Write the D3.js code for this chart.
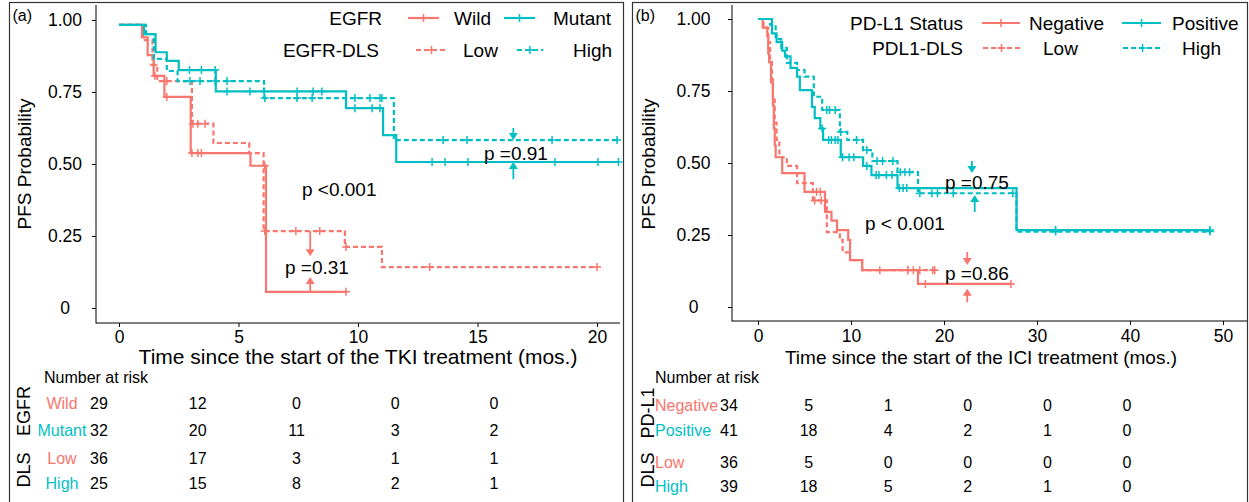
<!DOCTYPE html>
<html>
<head>
<meta charset="utf-8">
<script src="https://cdn.jsdelivr.net/npm/d3@7"></script>
<style>
  body { margin: 0; background: #fff; }
  text { font-family: "Liberation Sans", Arial, sans-serif; fill: #000; }
</style>
</head>
<body>
<svg id="chart"></svg>
<script>
var red = "#F8766D", teal = "#00BFC4";

// ---- panel (a): EGFR / EGFR-DLS ----
// step curves: time of each step and survival from that time on (last = end of follow-up)
var wildT = [0, 0.96, 1.2, 1.45, 1.9, 3.0, 5.5, 6.15, 9.5];
var wildS = [0.983, 0.94, 0.878, 0.806, 0.733, 0.538, 0.494, 0.056, 0.056];
var wildCens = [1.5, 2.0, 3.05, 3.3, 3.45, 6.1, 9.5];

var mutantT = [0, 1.05, 1.53, 2.0, 2.5, 4.05, 9.5, 11.05, 11.6, 20.9];
var mutantS = [0.983, 0.951, 0.888, 0.858, 0.826, 0.752, 0.694, 0.60, 0.507, 0.507];
var mutantCens = [2.95, 3.45, 4.02, 4.52, 5.48, 6.07, 7.45, 8.12, 8.49, 9.87, 10.59, 10.92, 13.1, 13.64, 14.6, 18.24, 20.04, 20.9];

var lowAT = [0, 1.0, 1.4, 1.6, 3.05, 3.95, 5.45, 6.05, 9.45, 11.0, 20.0];
var lowAS = [0.983, 0.93, 0.844, 0.788, 0.64, 0.573, 0.538, 0.267, 0.212, 0.142, 0.142];
var lowACens = [1.45, 2.0, 3.1, 3.3, 3.6, 6.1, 7.4, 8.4, 9.5, 13.0, 20.0];

var highAT = [0, 1.13, 1.46, 2.0, 2.45, 6.07, 11.5, 20.9];
var highAS = [0.983, 0.951, 0.865, 0.823, 0.788, 0.729, 0.583, 0.583];
var highACens = [2.97, 3.39, 4.02, 4.52, 6.1, 7.45, 8.08, 9.87, 10.5, 10.92, 11.0, 13.56, 14.56, 18.12, 20.84];

// ---- panel (b): PD-L1 / PDL1-DLS ----
var posT = [0, 1.5, 2.0, 2.6, 2.9, 3.5, 4.2, 4.5, 5.8, 6.1, 6.7, 7.0, 8.9, 11.3, 12.2, 15.0, 27.8, 48.6];
var posS = [1.0, 0.95, 0.92, 0.89, 0.87, 0.83, 0.80, 0.753, 0.695, 0.656, 0.62, 0.58, 0.52, 0.49, 0.458, 0.413, 0.267, 0.267];
var posCens = [6.9, 7.6, 7.9, 8.3, 8.6, 9.1, 9.8, 10.3, 11.7, 12.7, 13.0, 13.8, 14.4, 15.2, 15.6, 16.0, 32.0, 48.6];

var highBT = [0, 1.3, 1.9, 2.5, 3.1, 4.2, 5.0, 6.0, 6.9, 8.8, 9.6, 11.3, 12.3, 15.0, 17.2, 27.8, 48.6];
var highBS = [1.0, 0.98, 0.93, 0.90, 0.848, 0.823, 0.80, 0.73, 0.684, 0.608, 0.58, 0.545, 0.507, 0.468, 0.395, 0.262, 0.262];
var highBCens = [7.4, 7.7, 8.3, 8.9, 10.6, 11.7, 12.8, 13.4, 14.5, 15.3, 15.8, 16.3, 17.4, 18.7, 19.3, 21.0, 27.4, 32.0, 48.6];

var negT = [0, 0.5, 1.0, 1.1, 1.2, 1.4, 1.6, 1.7, 1.8, 1.9, 2.6, 5.0, 7.2, 7.9, 8.5, 9.7, 9.9, 11.2, 17.2, 27.2];
var negS = [1.0, 0.97, 0.94, 0.88, 0.85, 0.78, 0.70, 0.62, 0.56, 0.52, 0.465, 0.40, 0.33, 0.30, 0.267, 0.233, 0.163, 0.128, 0.08, 0.08];
var negCens = [6.3, 6.7, 16.1, 16.7, 18.0, 27.2];

var lowBT = [0, 0.6, 1.1, 1.3, 1.5, 1.6, 1.8, 2.0, 2.3, 3.1, 4.2, 5.9, 7.4, 8.8, 9.1, 9.9, 11.2, 19.0];
var lowBS = [1.0, 0.97, 0.92, 0.86, 0.79, 0.72, 0.64, 0.58, 0.52, 0.49, 0.43, 0.37, 0.26, 0.233, 0.19, 0.163, 0.128, 0.128];
var lowBCens = [6.1, 6.8, 13.1, 16.1, 17.4, 18.8, 19.0];

// ---- number at risk ----
var riskTimesA = [0, 5, 10, 15, 20];
var riskWild = [29, 12, 0, 0, 0];
var riskMutant = [32, 20, 11, 3, 2];
var riskLowA = [36, 17, 3, 1, 1];
var riskHighA = [25, 15, 8, 2, 1];

var riskTimesB = [0, 10, 20, 30, 40, 50];
var riskNeg = [34, 5, 1, 0, 0, 0];
var riskPos = [41, 18, 4, 2, 1, 0];
var riskLowB = [36, 5, 0, 0, 0, 0];
var riskHighB = [39, 18, 5, 2, 1, 0];

var yTicks = [0, 0.25, 0.5, 0.75, 1];
var yTickLabels = ["0", "0.25", "0.50", "0.75", "1.00"];

var svg = d3.select("#chart").attr("width", 1249).attr("height", 502);
svg.append("rect").attr("width", 1249).attr("height", 502).attr("fill", "#fff");

function survAt(T, S, t) {
    var s = S[0];
    for (var i = 0; i < T.length; i++) { if (T[i] <= t) s = S[i]; }
    return s;
}

function plus(g, px, py, color, r) {
    g.append("path")
        .attr("d", "M" + (px - r) + "," + py + "h" + (2 * r) + "M" + px + "," + (py - r) + "v" + (2 * r))
        .attr("stroke", color).attr("stroke-width", 1.5).attr("fill", "none");
}

function arrow(g, x, y, y0, y1, color) {
    var px = x, a = y(y0), b = y(y1), dir = b > a ? 1 : -1;
    g.append("line").attr("x1", px).attr("x2", px).attr("y1", a).attr("y2", b - dir * 6)
        .attr("stroke", color).attr("stroke-width", 1.8);
    g.append("path")
        .attr("d", "M" + (px - 4.5) + "," + (b - dir * 7) + "L" + (px + 4.5) + "," + (b - dir * 7) + "L" + px + "," + b + "Z")
        .attr("fill", color);
}

function drawPanel(p) {
    var g = svg.append("g");
    var x = d3.scaleLinear().domain(p.xDomain).range(p.xRange);
    var y = d3.scaleLinear().domain([0, 1]).range(p.yRange);

    // frame
    g.append("rect").attr("x", p.frame[0]).attr("y", 2.5).attr("width", p.frame[1] - p.frame[0]).attr("height", 520)
        .attr("fill", "none").attr("stroke", "#333").attr("stroke-width", 1.2);
    g.append("text").attr("x", p.frame[0] + 3).attr("y", 21).style("font-size", "16px").text(p.tag);

    // axes
    var yAxis = g.append("g").attr("transform", "translate(" + p.axisX + ",0)")
        .call(d3.axisLeft(y).tickValues(yTicks).tickSize(4).tickFormat(function (d, i) { return yTickLabels[i]; }));
    yAxis.select(".domain").remove();
    yAxis.selectAll("text").attr("text-anchor", "middle").attr("x", p.yLabelDx).style("font-size", "17.5px");
    g.append("line").attr("x1", p.axisX).attr("x2", p.axisX).attr("y1", 5).attr("y2", p.axisY + 0.5).attr("stroke", "#000");

    var xAxis = g.append("g").attr("transform", "translate(0," + p.axisY + ")")
        .call(d3.axisBottom(x).tickValues(p.xTicks).tickSize(4).tickPadding(p.xPad));
    xAxis.select(".domain").remove();
    xAxis.selectAll("text").style("font-size", "17.5px");
    g.append("line").attr("x1", p.axisX).attr("x2", p.axisEnd).attr("y1", p.axisY).attr("y2", p.axisY).attr("stroke", "#000");
    g.selectAll(".tick line").attr("stroke", "#000");

    g.append("text").attr("x", p.xTitleX).attr("y", p.xTitleY).attr("text-anchor", "middle")
        .style("font-size", p.xTitleSize).text(p.xTitle);
    g.append("text").attr("transform", "translate(" + p.yTitleX + ",164) rotate(-90)").attr("dy", "0.35em")
        .attr("text-anchor", "middle").style("font-size", "19px").text("PFS Probability");

    // curves
    var line = d3.line().x(function (d) { return x(d[0]); }).y(function (d) { return y(d[1]); }).curve(d3.curveStepAfter);
    p.curves.forEach(function (c) {
        var pts = c.T.map(function (t, i) { return [t, c.S[i]]; });
        g.append("path").datum(pts).attr("d", line).attr("fill", "none")
            .attr("stroke", c.color).attr("stroke-width", 2.2)
            .attr("stroke-dasharray", c.dash ? "5,3" : null);
        c.cens.forEach(function (t) { plus(g, x(t), y(survAt(c.T, c.S, t)), c.color, 4); });
    });

    // legend
    p.legend.forEach(function (row) {
        g.append("text").attr("x", row.titleEnd).attr("y", row.y).attr("dy", "0.35em").attr("text-anchor", "end")
            .style("font-size", "19px").text(row.title);
        row.items.forEach(function (it) {
            g.append("line").attr("x1", it.x1).attr("x2", it.x2).attr("y1", row.y).attr("y2", row.y)
                .attr("stroke", it.color).attr("stroke-width", 2.2).attr("stroke-dasharray", it.dash ? "5,3" : null);
            plus(g, (it.x1 + it.x2) / 2, row.y, it.color, 4);
            g.append("text").attr("x", it.tx).attr("y", row.y).attr("dy", "0.35em").style("font-size", "19px").text(it.label);
        });
    });

    // p values and arrows
    p.pvals.forEach(function (pv) {
        g.append("text").attr("x", pv[0]).attr("y", pv[1]).attr("dy", "0.35em").style("font-size", "19px").text(pv[2]);
    });
    p.arrows.forEach(function (a) { arrow(g, x(a[0]), y, a[1], a[2], a[3]); });

    // number at risk
    var rx = d3.scaleLinear().domain([p.riskTimes[0], p.riskTimes[p.riskTimes.length - 1]]).range(p.riskRange);
    g.append("text").attr("x", p.riskTitleX).attr("y", 377).attr("dy", "0.35em").style("font-size", "16px").text("Number at risk");
    p.riskRows.forEach(function (r) {
        g.append("text").attr("x", p.riskLabelX).attr("y", r.y).attr("dy", "0.35em")
            .attr("text-anchor", p.riskLabelAnchor).style("font-size", "16px").style("fill", r.color).text(r.label);
        p.riskTimes.forEach(function (t, i) {
            g.append("text").attr("x", rx(t)).attr("y", r.y).attr("dy", "0.35em").attr("text-anchor", "middle")
                .style("font-size", "16px").text(r.values[i]);
        });
    });
    p.riskGroups.forEach(function (rg) {
        g.append("text").attr("transform", "translate(" + p.yTitleX + "," + rg[1] + ") rotate(-90)").attr("dy", "0.35em")
            .attr("text-anchor", "middle").style("font-size", "18px").text(rg[0]);
    });
}

drawPanel({
    tag: "(a)", frame: [9.5, 623.5],
    xDomain: [0, 20], xRange: [119, 597], yRange: [308, 20],
    axisX: 96, axisY: 323, axisEnd: 620, xTicks: [0, 5, 10, 15, 20], xPad: 4, yLabelDx: -31,
    xTitle: "Time since the start of the TKI treatment (mos.)", xTitleX: 358, xTitleY: 364, xTitleSize: "21px", yTitleX: 24,
    curves: [
        { T: wildT, S: wildS, cens: wildCens, color: red, dash: false },
        { T: lowAT, S: lowAS, cens: lowACens, color: red, dash: true },
        { T: mutantT, S: mutantS, cens: mutantCens, color: teal, dash: false },
        { T: highAT, S: highAS, cens: highACens, color: teal, dash: true }
    ],
    legend: [
        { title: "EGFR", titleEnd: 382, y: 18, items: [
            { label: "Wild", color: red, dash: false, x1: 408, x2: 439, tx: 454 },
            { label: "Mutant", color: teal, dash: false, x1: 504, x2: 535, tx: 553 }] },
        { title: "EGFR-DLS", titleEnd: 379, y: 50, items: [
            { label: "Low", color: red, dash: true, x1: 416, x2: 447, tx: 463 },
            { label: "High", color: teal, dash: true, x1: 517, x2: 543, tx: 573 }] }
    ],
    pvals: [[302, 189, "p <0.001"], [285, 267, "p =0.31"], [484, 153, "p =0.91"]],
    arrows: [[8.0, 0.267, 0.18, red], [8.0, 0.056, 0.108, red], [16.5, 0.625, 0.583, teal], [16.5, 0.448, 0.507, teal]],
    riskTimes: riskTimesA, riskRange: [99, 494], riskTitleX: 44, riskLabelX: 62, riskLabelAnchor: "middle",
    riskRows: [
        { label: "Wild", color: red, values: riskWild, y: 403 },
        { label: "Mutant", color: teal, values: riskMutant, y: 430 },
        { label: "Low", color: red, values: riskLowA, y: 458 },
        { label: "High", color: teal, values: riskHighA, y: 483 }
    ],
    riskGroups: [["EGFR", 411], ["DLS", 470]]
});

drawPanel({
    tag: "(b)", frame: [632.5, 1247.5],
    xDomain: [0, 50], xRange: [758, 1223], yRange: [307, 19],
    axisX: 732, axisY: 321, axisEnd: 1247, xTicks: [0, 10, 20, 30, 40, 50], xPad: 5, yLabelDx: -38.5,
    xTitle: "Time since the start of the ICI treatment (mos.)", xTitleX: 981, xTitleY: 364, xTitleSize: "19px", yTitleX: 648,
    curves: [
        { T: negT, S: negS, cens: negCens, color: red, dash: false },
        { T: lowBT, S: lowBS, cens: lowBCens, color: red, dash: true },
        { T: posT, S: posS, cens: posCens, color: teal, dash: false },
        { T: highBT, S: highBS, cens: highBCens, color: teal, dash: true }
    ],
    legend: [
        { title: "PD-L1 Status", titleEnd: 963, y: 23, items: [
            { label: "Negative", color: red, dash: false, x1: 982, x2: 1020, tx: 1029 },
            { label: "Positive", color: teal, dash: false, x1: 1122, x2: 1161, tx: 1172 }] },
        { title: "PDL1-DLS", titleEnd: 963, y: 48, items: [
            { label: "Low", color: red, dash: true, x1: 983, x2: 1020, tx: 1043 },
            { label: "High", color: teal, dash: true, x1: 1123, x2: 1162, tx: 1182 }] }
    ],
    pvals: [[945, 182, "p =0.75"], [865, 223, "p < 0.001"], [945, 273, "p =0.86"]],
    arrows: [[23.0, 0.507, 0.465, teal], [23.3, 0.33, 0.389, teal], [22.5, 0.191, 0.146, red], [22.5, 0.017, 0.063, red]],
    riskTimes: riskTimesB, riskRange: [729, 1127], riskTitleX: 655, riskLabelX: 655, riskLabelAnchor: "start",
    riskRows: [
        { label: "Negative", color: red, values: riskNeg, y: 405 },
        { label: "Positive", color: teal, values: riskPos, y: 430 },
        { label: "Low", color: red, values: riskLowB, y: 462 },
        { label: "High", color: teal, values: riskHighB, y: 486 }
    ],
    riskGroups: [["PD-L1", 413], ["DLS", 470]]
});
</script>
</body>
</html>
